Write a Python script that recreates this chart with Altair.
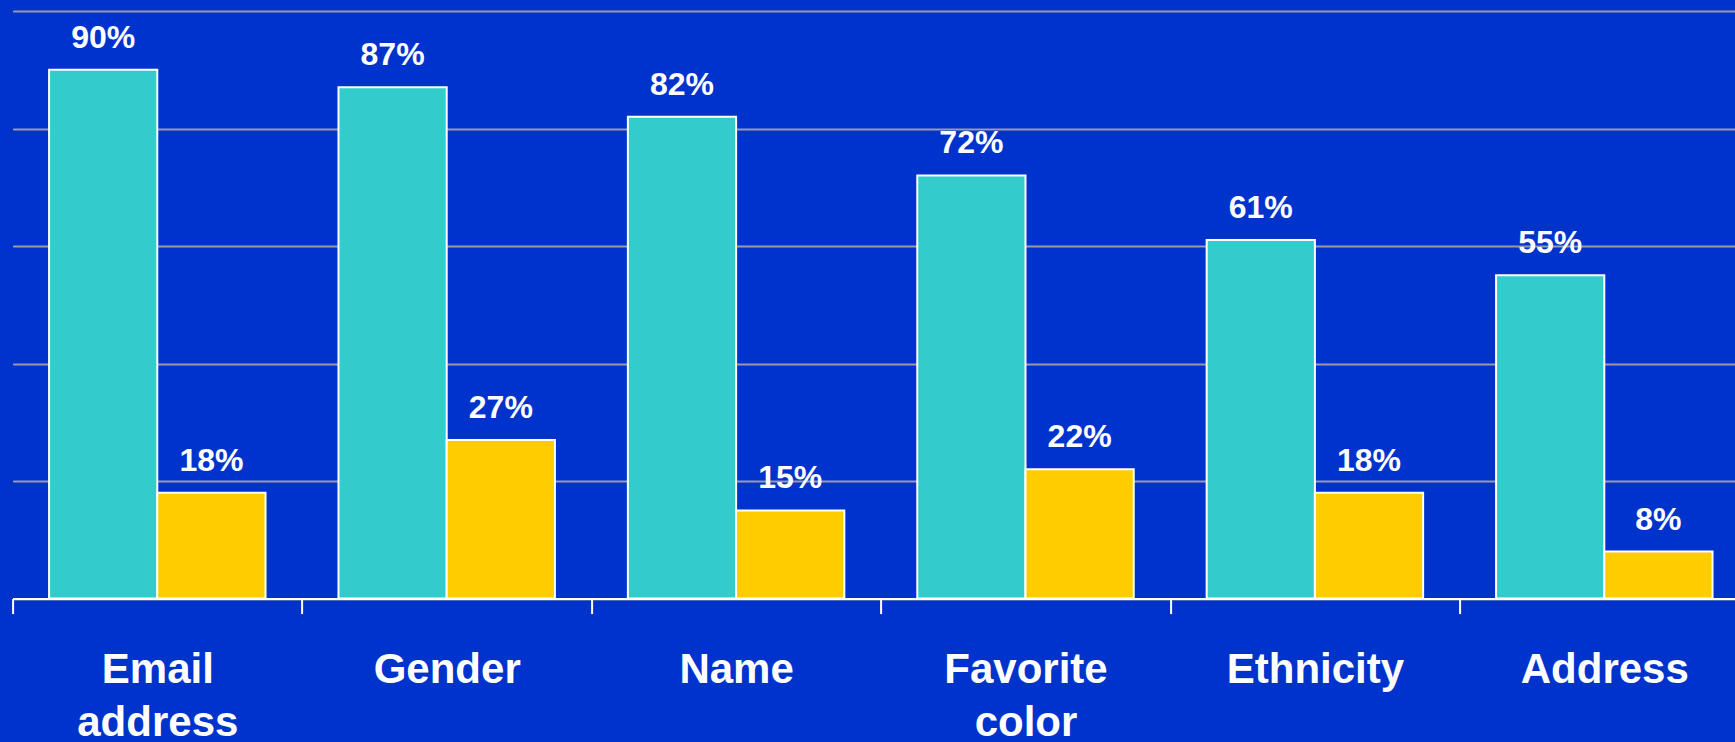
import altair as alt
import pandas as pd

categories = ["Email address", "Gender", "Name", "Favorite color", "Ethnicity", "Address"]
series_names = ["Series A", "Series B"]
series_a = [90, 87, 82, 72, 61, 55]
series_b = [18, 27, 15, 22, 18, 8]
colors = ["#33CCCC", "#FFCC00"]

rows = []
for c, a, b in zip(categories, series_a, series_b):
    rows.append({"category": c, "series": series_names[0], "value": a, "label": f"{a}%"})
    rows.append({"category": c, "series": series_names[1], "value": b, "label": f"{b}%"})
df = pd.DataFrame(rows)

FONT = "Liberation Sans"
W = 1722.4
H = 587.7
STEP = 289.4

x = alt.X(
    "category:N",
    sort=categories,
    scale=alt.Scale(paddingInner=0, paddingOuter=0, range=[0, STEP * len(categories)]),
    axis=alt.Axis(
        title=None,
        tickBand="extent",
        ticks=True,
        tickSize=15,
        tickWidth=2,
        tickColor="white",
        domainColor="white",
        domainWidth=2,
        labelColor="white",
        labelFont=FONT,
        labelFontSize=42,
        labelFontWeight="bold",
        labelPadding=36,
        labelLineHeight=53,
        labelAngle=0,
        labelExpr="split(datum.label, ' ')",
        grid=False,
    ),
)
xoff = alt.XOffset("series:N", sort=series_names,
                   scale=alt.Scale(paddingInner=0, paddingOuter=0.337))
y = alt.Y(
    "value:Q",
    scale=alt.Scale(domain=[0, 100], nice=False),
    axis=alt.Axis(
        title=None, labels=False, ticks=False, domain=False,
        values=[0, 20, 40, 60, 80, 100],
        grid=True, gridColor="#9a9aa8", gridWidth=2,
    ),
)

bars = alt.Chart(df).mark_bar(stroke="white", strokeWidth=2).encode(
    x=x, xOffset=xoff, y=y,
    color=alt.Color("series:N", scale=alt.Scale(domain=series_names, range=colors), legend=None),
)
texts = alt.Chart(df).mark_text(
    dy=-22, baseline="alphabetic", fontSize=32, fontWeight="bold", font=FONT, color="white"
).encode(x=x, xOffset=xoff, y=y, text="label:N")

chart = alt.layer(bars, texts).properties(
    width=W, height=H,
    autosize=alt.AutoSizeParams(type="none"),
    padding={"left": 12.6, "top": 10.9, "right": 0, "bottom": 742 - 10.9 - H},
    background="#0033CC",
).configure_view(stroke=None)

chart.save("out.html", embed_options={"renderer": "svg", "actions": False})
